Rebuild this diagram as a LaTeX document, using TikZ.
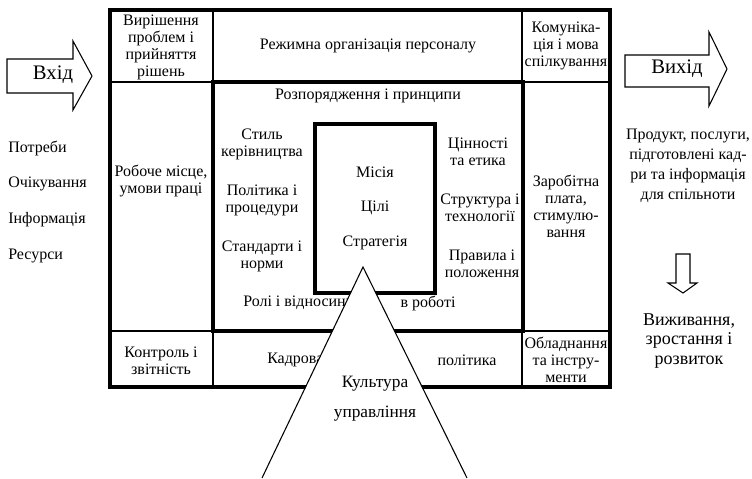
\documentclass[tikz,border=0pt]{standalone}
\usepackage{fontspec}
\setmainfont{Liberation Serif}
\begin{document}
\begin{tikzpicture}[x=0.75pt,y=-0.75pt,
  font=\fontsize{12}{12.75}\selectfont,
  heavy/.style={line width=3pt},
  light/.style={line width=0.8pt},
  txt/.style={align=center,inner sep=0pt},
  big/.style={inner sep=0pt,font=\fontsize{15.5}{17}\selectfont}]

\useasboundingbox (0,0) rectangle (752,478);

% frame and cells
\draw[heavy] (110,10) rectangle (610,387);
\draw[light] (213,10) -- (213,82) (522,10) -- (522,82);
\draw[light] (110,82) -- (213,82) (522,82) -- (610,82);
\draw[light] (110,331) -- (213,331) (522,331) -- (610,331);
\draw[light] (213,331) -- (213,387) (522,331) -- (522,387);
\draw[heavy] (213,82) rectangle (523,331);
\draw[heavy] (315,124) rectangle (435,293);

\node[txt] (decide) at (161,47) {Вирішення\\проблем і\\прийняття\\рішень};
\node[txt] (regime) at (368,46) {Режимна організація персоналу};
\node[txt] (comm) at (566,46) {Комуніка-\\ція і мова\\спілкування};
\node[txt] (workplace) at (161,181) {Робоче місце,\\умови праці};
\node[txt] (pay) at (566,206) {Заробітна\\плата,\\стимулю-\\вання};
\node[txt] (control) at (161,361) {Контроль і\\звітність};
\node[txt] (equip) at (566,360) {Обладнання\\та інстру-\\менти};

\node[txt] (orders) at (368,96) {Розпорядження і принципи};
\node[txt] (style) at (262,144) {Стиль\\керівництва};
\node[txt] (policy) at (262,200) {Політика і\\процедури};
\node[txt] (standards) at (262,256) {Стандарти і\\норми};
\node[txt,anchor=west] (roles) at (243,303) {Ролі і відносини};
\node[txt] (work) at (428,303) {в роботі};
\node[txt] (values) at (478,152) {Цінності\\та етика};
\node[txt] (structure) at (480,208) {Структура і\\технології};
\node[txt] (rules) at (482,264) {Правила і\\положення};

\node[txt] (mission) at (375,172) {Місія};
\node[txt] (goals) at (375,208) {Цілі};
\node[txt] (strategy) at (375,243) {Стратегія};

\node[txt,anchor=west] (staff) at (267,360) {Кадрова};
\node[txt] (staffpol) at (467,360) {політика};

% culture triangle
\coordinate (apex) at (363,267);
\fill[white] (apex) -- (262,480) -- (467,480) -- cycle;
\draw[light] (262,478) -- (apex) -- (467,478);
\node[txt,font=\fontsize{13}{14}\selectfont] (culture) at (375,384) {Культура};
\node[txt,font=\fontsize{13}{14}\selectfont] (mgmt) at (375,414) {управління};

% input side
\draw[light] (7,59) -- (73,59) -- (73,41) -- (92,76) -- (73,110) -- (73,93) -- (7,93) -- cycle;
\node[big] (in) at (53,75) {Вхід};
\node[txt,anchor=west] (needs) at (8,148) {Потреби};
\node[txt,anchor=west] (expect) at (8,184) {Очікування};
\node[txt,anchor=west] (info) at (8,220) {Інформація};
\node[txt,anchor=west] (res) at (8,256) {Ресурси};

% output side
\draw[light] (625,55) -- (709,55) -- (709,32) -- (727,69) -- (709,106) -- (709,87) -- (625,87) -- cycle;
\node[big] (out) at (677,69) {Вихід};
\node[txt,font=\fontsize{12}{15}\selectfont] (product) at (688,166)
  {Продукт, послуги,\\підготовлені кад-\\ри та інформація\\для спільноти};
\draw[light] (676,254) -- (690,254) -- (690,283) -- (697,283) -- (683,293) -- (668,283) -- (676,283) -- cycle;
\node[txt,font=\fontsize{13.5}{14.6}\selectfont] (survive) at (689,341)
  {Виживання,\\зростання і\\розвиток};

\end{tikzpicture}
\end{document}
